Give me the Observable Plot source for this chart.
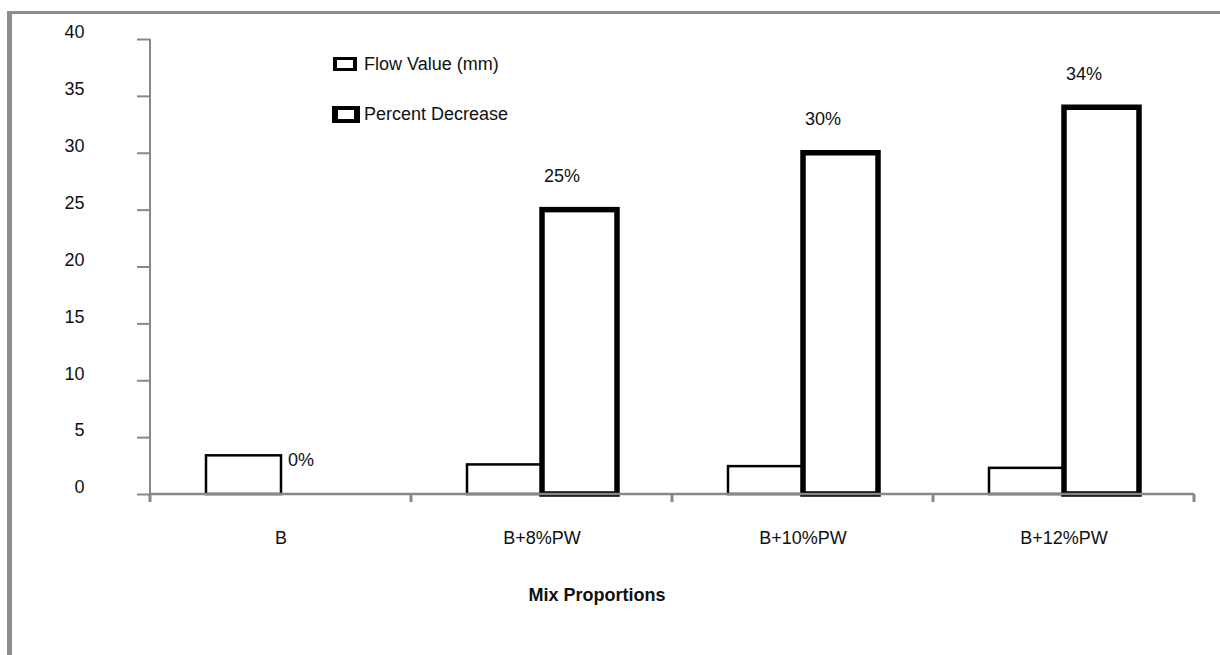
<!DOCTYPE html>
<html>
<head>
<meta charset="utf-8">
<script src="https://cdn.jsdelivr.net/npm/d3@7"></script>
<script src="https://cdn.jsdelivr.net/npm/@observablehq/plot@0.6"></script>
<style>
  html, body { margin: 0; padding: 0; background: #fff; }
  #wrap { position: relative; width: 1220px; height: 655px; overflow: hidden;
          font-family: "Liberation Sans", Arial, sans-serif; color: #111; }
  #border { position: absolute; left: 7px; top: 11px; right: 0; bottom: 0;
            border-left: 5px solid #8c8c8c; border-top: 3px solid #8c8c8c; }
  #chart { position: absolute; left: 0; top: 0; }
  .leg { position: absolute; height: 20px; display: flex; align-items: center;
         font-size: 18px; white-space: nowrap; }
  .sw { box-sizing: border-box; background: #fff; border-style: solid; border-color: #000; }
  #xtitle { position: absolute; left: 447px; width: 300px; top: 586px; text-align: center;
            font-size: 18px; line-height: 18px; font-weight: bold; }
</style>
</head>
<body>
<div id="wrap">
  <div id="border"></div>
  <div id="chart"></div>
  <div class="leg" style="left:333px;top:54px"><div class="sw" style="width:24px;height:14px;border-width:3px 4px;margin-right:7px"></div><span id="leg0"></span></div>
  <div class="leg" style="left:332px;top:104px"><div class="sw" style="width:28px;height:17px;border-width:4px 6px;margin-right:4px"></div><span id="leg1"></span></div>
  <div id="xtitle"></div>
</div>
<script>
// ---- data ----
const categories = ["B", "B+8%PW", "B+10%PW", "B+12%PW"];
const seriesNames = ["Flow Value (mm)", "Percent Decrease"];
const flowValue = [3.4, 2.6, 2.45, 2.3];
const percentDecrease = [0, 25, 30, 34];
const percentLabels = ["0%", "25%", "30%", "34%"];
const yTicks = [0, 5, 10, 15, 20, 25, 30, 35, 40];
const xTitle = "Mix Proportions";

document.getElementById("leg0").textContent = seriesNames[0];
document.getElementById("leg1").textContent = seriesNames[1];
document.getElementById("xtitle").textContent = xTitle;

const flowRows = categories.map((c, i) => ({cat: c, series: seriesNames[0], value: flowValue[i]}));
const pctRows = categories.map((c, i) => ({cat: c, series: seriesNames[1], value: percentDecrease[i], label: percentLabels[i]}));

const plot = Plot.plot({
  width: 1220,
  height: 655,
  marginLeft: 148,
  marginRight: 25,
  marginTop: 39,
  marginBottom: 161,
  style: {background: "transparent", fontFamily: "'Liberation Sans', Arial, sans-serif", fontSize: "18px", color: "#111", overflow: "visible"},
  fx: {domain: categories, padding: 0, label: null},
  x: {domain: seriesNames, paddingInner: 0, paddingOuter: 0.74, axis: null},
  y: {domain: [0, 40], label: null},
  marks: [
    Plot.barY(flowRows, {fx: "cat", x: "series", y: "value", fill: "white", stroke: "black", strokeWidth: 2.5}),
    Plot.barY(pctRows.filter(d => d.value > 0), {fx: "cat", x: "series", y: "value", fill: "white", stroke: "black", strokeWidth: 5.5}),
    Plot.text(pctRows, {fx: "cat", x: "series", y: "value", text: "label", dy: -34, dx: -18, fontSize: 18, fill: "#111"}),
    Plot.axisY({ticks: yTicks, tickSize: 13, tickFormat: () => "", stroke: "#888", strokeWidth: 2, label: null}),
    Plot.axisY({ticks: yTicks, tickSize: 0, tickPadding: 66, dy: -7, fill: "#111", fontSize: 18, label: null}),
    Plot.axisFx({anchor: "bottom", tickSize: 0, tickPadding: 37, fill: "#111", fontSize: 18, label: null})
  ]
});
document.getElementById("chart").appendChild(plot);

// ---- axis lines and category boundary ticks from the plot's own scales ----
const fxD = plot.scale("fx");
const yD = plot.scale("y");
const fxS = fxD.apply ? fxD.apply : d3.scaleBand().domain(fxD.domain).range(fxD.range).paddingInner(fxD.paddingInner ?? 0).paddingOuter(fxD.paddingOuter ?? 0);
const bw = fxD.bandwidth ?? (fxS.bandwidth ? fxS.bandwidth() : 0);
const yS = yD.apply ? yD.apply : d3.scaleLinear().domain(yD.domain).range(yD.range);
const y0 = yS(0), yTop = yS(40);
const edges = categories.map(c => fxS(c)).concat([fxS(categories[categories.length - 1]) + bw]);
const svg = d3.select(plot.tagName.toLowerCase() === "svg" ? plot : plot.querySelector("svg"));
const g = svg.append("g").attr("stroke", "#888").attr("fill", "none");
g.append("line").attr("x1", edges[0]).attr("x2", edges[0]).attr("y1", yTop).attr("y2", y0).attr("stroke-width", 2);
g.append("line").attr("x1", edges[0]).attr("x2", edges[edges.length - 1]).attr("y1", y0).attr("y2", y0).attr("stroke-width", 2.5);
g.selectAll("line.bt").data(edges).join("line").attr("class", "bt")
  .attr("x1", d => d).attr("x2", d => d).attr("y1", y0).attr("y2", y0 + 8).attr("stroke-width", 3);
</script>
</body>
</html>
